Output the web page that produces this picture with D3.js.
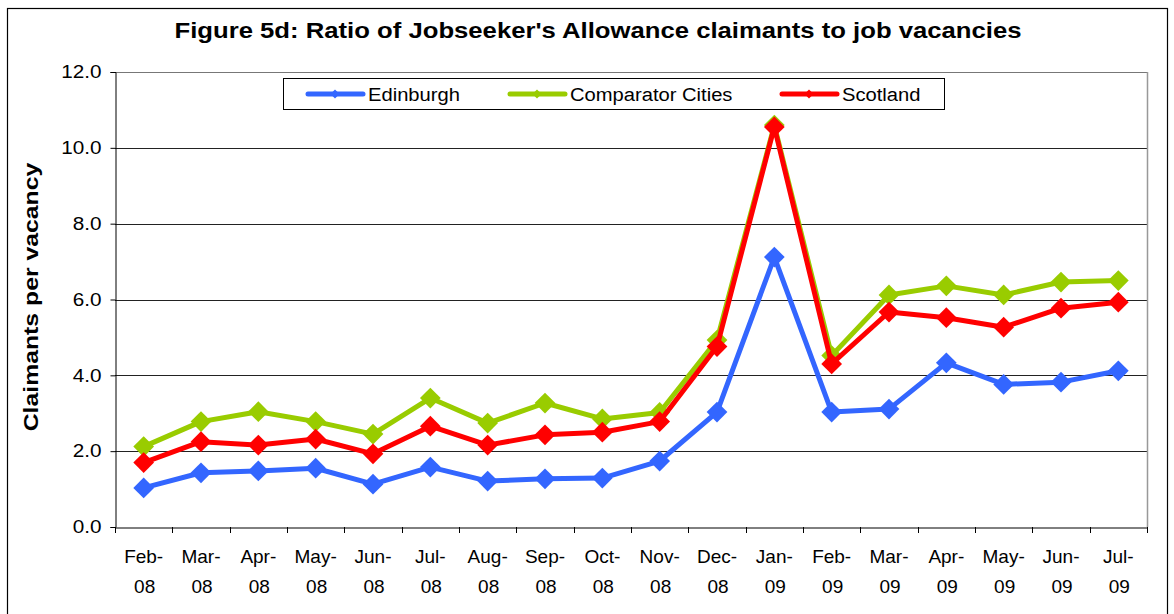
<!DOCTYPE html>
<html>
<head>
<meta charset="utf-8">
<script src="https://cdn.jsdelivr.net/npm/d3@7"></script>
<style>
  body { margin: 0; background: #fff; }
  text { font-family: "Liberation Sans", Arial, sans-serif; }
</style>
</head>
<body>
<svg id="chart" width="1174" height="614"></svg>
<script>
// data
const months = ["Feb-08", "Mar-08", "Apr-08", "May-08", "Jun-08", "Jul-08", "Aug-08", "Sep-08", "Oct-08",
    "Nov-08", "Dec-08", "Jan-09", "Feb-09", "Mar-09", "Apr-09", "May-09", "Jun-09", "Jul-09"];
const edinburgh = [1.03, 1.43, 1.48, 1.55, 1.13, 1.58, 1.21, 1.27, 1.29, 1.74, 3.03, 7.12, 3.03, 3.11, 4.33, 3.76, 3.82, 4.12];
const comparator = [2.12, 2.78, 3.04, 2.78, 2.45, 3.40, 2.74, 3.27, 2.85, 3.02, 4.93, 10.60, 4.52, 6.12, 6.36, 6.12, 6.46, 6.50];
const scotland = [1.70, 2.25, 2.16, 2.32, 1.93, 2.66, 2.16, 2.43, 2.50, 2.78, 4.76, 10.55, 4.30, 5.67, 5.52, 5.27, 5.77, 5.93];
const yTicks = [0, 2, 4, 6, 8, 10, 12];

const series = [
    { name: "Edinburgh", values: edinburgh, color: "#3366FF" },
    { name: "Comparator Cities", values: comparator, color: "#99CC00" },
    { name: "Scotland", values: scotland, color: "#FF0000" }
];

const svg = d3.select("#chart");
const plotLeft = 115, plotRight = 1147, plotTop = 72, plotBottom = 527;

// the original text is a bit wider than Liberation Sans, stretch it
function stretch(sel, k) {
    sel.each(function () {
        const w = this.getComputedTextLength();
        d3.select(this).attr("textLength", w * k).attr("lengthAdjust", "spacingAndGlyphs");
    });
}

// outer frame
svg.append("rect")
    .attr("x", 7.5).attr("y", 8.5)
    .attr("width", 1160).attr("height", 640)
    .attr("fill", "none").attr("stroke", "#000").attr("stroke-width", 1.2);

svg.append("text")
    .attr("x", 598).attr("y", 38)
    .attr("text-anchor", "middle")
    .attr("font-size", "22px").attr("font-weight", "bold")
    .attr("textLength", 847).attr("lengthAdjust", "spacingAndGlyphs")
    .text("Figure 5d: Ratio of Jobseeker's Allowance claimants to job vacancies");

const x = d3.scaleBand().domain(months).range([plotLeft, plotRight]);
const y = d3.scaleLinear().domain([0, 12]).range([plotBottom, plotTop]);

// gridlines
svg.append("g")
    .selectAll("line")
    .data(yTicks.filter(d => d > 0))
    .enter().append("line")
    .attr("x1", plotLeft).attr("x2", plotRight)
    .attr("y1", d => Math.round(y(d)) + 0.5).attr("y2", d => Math.round(y(d)) + 0.5)
    .attr("stroke", d => d === 12 ? "#777" : "#222").attr("stroke-width", 1);

// right border of plot
svg.append("line")
    .attr("x1", plotRight + 0.5).attr("x2", plotRight + 0.5)
    .attr("y1", plotTop).attr("y2", plotBottom)
    .attr("stroke", "#999").attr("stroke-width", 1.5);

// y axis
const yAxis = svg.append("g")
    .attr("transform", `translate(${plotLeft + 0.5},0)`)
    .call(d3.axisLeft(y).tickValues(yTicks).tickSize(5).tickPadding(9).tickFormat(d3.format(".1f")));
yAxis.select(".domain").attr("stroke", "#000");
yAxis.selectAll(".tick line").attr("stroke", "#000");
yAxis.selectAll("text").attr("font-size", "18px").attr("fill", "#000")
    .attr("font-family", "Liberation Sans, Arial, sans-serif")
    .call(stretch, 1.15);

// x axis
const xAxis = svg.append("g")
    .attr("transform", `translate(0,${plotBottom + 0.5})`)
    .call(d3.axisBottom(x).tickSize(0).tickFormat(""));
xAxis.select(".domain").attr("stroke", "#000");
svg.append("g")
    .selectAll("line")
    .data(d3.range(months.length + 1))
    .enter().append("line")
    .attr("x1", i => Math.round(plotLeft + i * x.step()) + 0.5)
    .attr("x2", i => Math.round(plotLeft + i * x.step()) + 0.5)
    .attr("y1", plotBottom).attr("y2", plotBottom + 6)
    .attr("stroke", "#000");

const xl = svg.append("g").selectAll("text")
    .data(months)
    .enter().append("text")
    .attr("x", d => x(d) + x.bandwidth() / 2)
    .attr("text-anchor", "middle")
    .attr("font-size", "19px");
xl.append("tspan").attr("x", d => x(d) + x.bandwidth() / 2).attr("y", 563).text(d => d.split("-")[0] + "-");
xl.append("tspan").attr("x", d => x(d) + x.bandwidth() / 2 + 1).attr("y", 593).text(d => d.split("-")[1]);

// y label
svg.append("text")
    .attr("transform", "translate(38,297) rotate(-90)")
    .attr("text-anchor", "middle")
    .attr("font-size", "21px").attr("font-weight", "bold")
    .text("Claimants per vacancy")
    .call(stretch, 1.18);

// lines
const line = d3.line()
    .x((d, i) => x(months[i]) + x.bandwidth() / 2)
    .y(d => y(d));
const diamond = d3.symbol().type(d3.symbolSquare).size(215);

for (const s of series) {
    const g = svg.append("g");
    g.append("path")
        .datum(s.values)
        .attr("d", line)
        .attr("fill", "none")
        .attr("stroke", s.color)
        .attr("stroke-width", 5)
        .attr("stroke-linejoin", "round");
    g.selectAll("path.m")
        .data(s.values)
        .enter().append("path")
        .attr("class", "m")
        .attr("d", diamond)
        .attr("transform", (d, i) => `translate(${x(months[i]) + x.bandwidth() / 2},${y(d)}) rotate(45)`)
        .attr("fill", s.color);
}

// legend
const legend = svg.append("g");
legend.append("rect")
    .attr("x", 283.5).attr("y", 78.5)
    .attr("width", 661).attr("height", 31)
    .attr("fill", "#fff").attr("stroke", "#000");
const legX = [308, 510, 782];
series.forEach((s, i) => {
    const lg = legend.append("g").attr("transform", `translate(${legX[i]},94)`);
    lg.append("line").attr("x1", 0).attr("x2", 55).attr("y1", 0).attr("y2", 0)
        .attr("stroke", s.color).attr("stroke-width", 5).attr("stroke-linecap", "round");
    lg.append("path").attr("d", d3.symbol().type(d3.symbolSquare).size(40))
        .attr("transform", "translate(27,0) rotate(45)").attr("fill", s.color);
    lg.append("text").attr("x", 60).attr("y", 7).attr("font-size", "18px").text(s.name)
        .call(stretch, 1.12);
});
</script>
</body>
</html>
